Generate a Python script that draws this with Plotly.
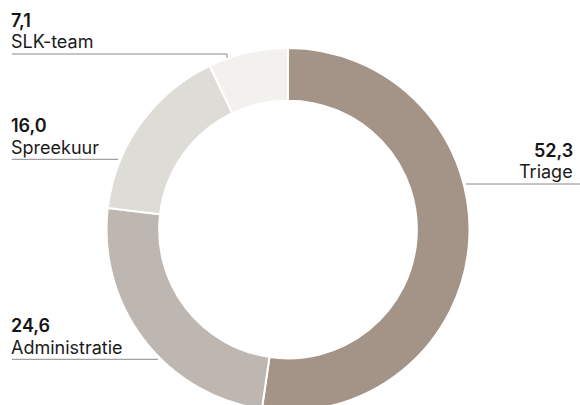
import plotly.graph_objects as go

# Data
categories = ["Triage", "Administratie", "Spreekuur", "SLK-team"]
values = [52.3, 24.6, 16.0, 7.1]
value_labels = ["52,3", "24,6", "16,0", "7,1"]
colors = ["#a39487", "#beb6b0", "#dddcd7", "#f2f1ed"]

W, H = 580, 411
FONT = "Inter"


def fx(x):
    return x / W


def fy(y):
    return 1 - y / H


# pie geometry (pixels)
cx, cy, R = 288, 229.5, 181.5

fig = go.Figure(
    go.Pie(
        labels=categories,
        values=values,
        sort=False,
        direction="clockwise",
        rotation=0,
        hole=0.71,
        marker=dict(colors=colors, line=dict(color="white", width=2)),
        textinfo="none",
        hoverinfo="label+value",
        domain=dict(x=[fx(cx - R), fx(cx + R)], y=[fy(cy + R), fy(cy - R)]),
        showlegend=False,
    )
)

# label layout: (category index, x anchor px, side, line y, line x0, line x1, tick)
label_layout = [
    (3, 9, "left", 54, 12, 227, True),
    (2, 9, "left", 159.3, 12, 118, False),
    (1, 9, "left", 359.3, 12, 158, False),
    (0, 575, "right", 184, 466, 580, False),
]

annotations = []
shapes = []
for idx, x, side, ly, x0, x1, tick in label_layout:
    annotations.append(dict(
        x=fx(x), y=fy(ly - 34), xref="paper", yref="paper",
        xanchor=side, yanchor="middle", showarrow=False,
        text=value_labels[idx],
        font=dict(family=FONT, size=18, color="#141414", weight=600),
    ))
    annotations.append(dict(
        x=fx(x), y=fy(ly - 12), xref="paper", yref="paper",
        xanchor=side, yanchor="middle", showarrow=False,
        text=categories[idx],
        font=dict(family=FONT, size=18, color="#1a1a1a", weight=400),
    ))
    shapes.append(dict(type="line", xref="paper", yref="paper",
                       x0=fx(x0), x1=fx(x1), y0=fy(ly), y1=fy(ly),
                       line=dict(color="#8a8a8a", width=1)))
    if tick:
        shapes.append(dict(type="line", xref="paper", yref="paper",
                           x0=fx(x1), x1=fx(x1), y0=fy(ly), y1=fy(ly + 4),
                           line=dict(color="#8a8a8a", width=1)))

fig.update_layout(
    width=W, height=H,
    margin=dict(l=0, r=0, t=0, b=0),
    paper_bgcolor="white", plot_bgcolor="white",
    annotations=annotations, shapes=shapes,
)

fig.write_html(
    "out.html",
    config={"displayModeBar": False},
    post_script="document.body.style.margin='0';document.body.style.overflow='hidden';",
)
